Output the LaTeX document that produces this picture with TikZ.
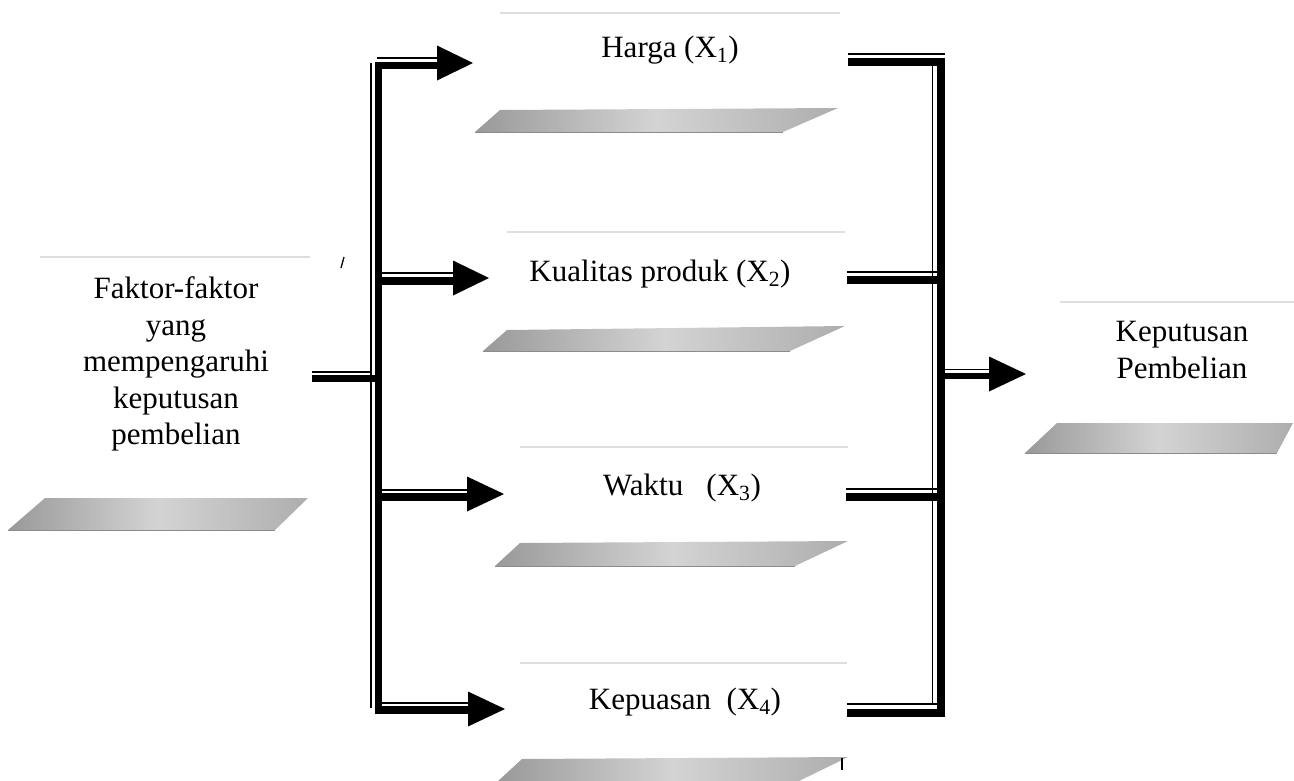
\documentclass[tikz,border=0pt]{standalone}
\usepackage{fontspec}
\setmainfont{Liberation Serif}
\usetikzlibrary{calc}
\pgfdeclarehorizontalshading{slabshade}{100bp}{color(0bp)=(black!40); color(25bp)=(black!40); color(50bp)=(black!17); color(75bp)=(black!32); color(100bp)=(black!32)}
\begin{document}
\begin{tikzpicture}[x=1pt,y=-1pt,
  lbl/.style={font=\fontsize{31}{36.5}\selectfont, inner sep=0pt, align=center},
  thickbar/.style={line width=7.5pt, line join=miter},
  thinbar/.style={line width=1.7pt},
  rim/.style={line width=1.3pt, draw=black!13},
  floor/.style={shading=slabshade},
  floorline/.style={line width=0.8pt, draw=black!45},
  head/.style={fill=black}
]
\useasboundingbox (0,0) rectangle (1294,780);

% ---------- box floors (grey slanted slabs) and faint top rims ----------
\shade[floor] (8,530) -- (275,530) -- (308,498) -- (45,498) -- cycle;
\draw[floorline] (8,530) -- (275,530);
\draw[rim] (40,257) -- (310,257);

\shade[floor] (475,132) -- (783,132) -- (838,108) -- (500,110) -- cycle;
\draw[floorline] (475,132) -- (783,132);
\draw[rim] (500,13) -- (840,13);

\shade[floor] (483,351) -- (790,351) -- (845,326) -- (507,330) -- cycle;
\draw[floorline] (483,351) -- (790,351);
\draw[rim] (507,232) -- (845,232);

\shade[floor] (495,566) -- (795,566) -- (848,541) -- (520,543) -- cycle;
\draw[floorline] (495,566) -- (795,566);
\draw[rim] (520,447) -- (848,447);

\shade[floor] (497,782) -- (797,782) -- (848,757) -- (522,759) -- cycle;
\draw[rim] (520,663) -- (847,663);
\draw[line width=2pt] (842,758) -- (842,770);

\shade[floor] (1025,453) -- (1277,453) -- (1293,423) -- (1057,423) -- cycle;
\draw[floorline] (1025,453) -- (1277,453);
\draw[rim] (1060,302) -- (1294,302);

% ---------- labels ----------
\node[lbl] (src) at (176,364) {Faktor-faktor\\yang\\mempengaruhi\\keputusan\\pembelian};
\node[lbl, anchor=base] (x1) at (670,57) {Harga (X\textsubscript{1})};
\node[lbl, anchor=base] (x2) at (660,281) {Kualitas produk (X\textsubscript{2})};
\node[lbl, anchor=base] (x3) at (682,495) {Waktu\ \ \ (X\textsubscript{3})};
\node[lbl, anchor=base] (x4) at (685,709) {Kepuasan\ \ (X\textsubscript{4})};
\node[lbl] (out) at (1182,350) {Keputusan\\Pembelian};

% ---------- connection points ----------
\coordinate (inL)  at (312,378.5);
\coordinate (busI) at (378.5,378.5);
\coordinate (busT) at (378.5,65.5);
\coordinate (busB) at (378.5,710);
\coordinate (b1) at (437,65.5);
\coordinate (b2) at (453,281);
\coordinate (b3) at (467,497);
\coordinate (b4) at (468,710);
\coordinate (t1) at (473,63);
\coordinate (t2) at (489,278);
\coordinate (t3) at (504,494);
\coordinate (t4) at (505,709);

\coordinate (r1) at (848,62);
\coordinate (r2) at (847,279.5);
\coordinate (r3) at (846,497);
\coordinate (r4) at (847,712.5);
\coordinate (rbT) at (940.5,62);
\coordinate (rbB) at (940.5,712.5);
\coordinate (rbO) at (940.5,376);
\coordinate (ob) at (989,376);
\coordinate (ot) at (1026,374);

% ---------- left bus: thick strokes ----------
\draw[thickbar] (b1) -- (busT) -- (busB) -- (b4);
\draw[thickbar] (inL) -- (busI);
\draw[thickbar] (busT |- b2) -- (b2);
\draw[thickbar] (busT |- b3) -- (b3);
% thin companion strokes
\draw[thinbar] (371,63) -- (371,708);
\draw[thinbar] (377,58) -- (b1 |- 0,58);
\draw[thinbar] (382,273) -- (b2 |- 0,273);
\draw[thinbar] (382,490) -- (b3 |- 0,490);
\draw[thinbar] (382,703) -- (b4 |- 0,703);
\draw[thinbar] (inL |- 0,372) -- (371,372);

% arrow heads
\foreach \b/\t in {b1/t1,b2/t2,b3/t3,b4/t4,ob/ot}{
  \fill[head] ($(\b |- \t)+(0,-17.5)$) -- (\t) -- ($(\b |- \t)+(0,17.5)$) -- cycle;
}

% ---------- right bus ----------
\draw[thickbar, line width=8pt] (r1) -- (rbT) -- (rbB) -- (r4);
\draw[thickbar, line width=8pt] (r2) -- (rbT |- r2);
\draw[thickbar, line width=8pt] (r3) -- (rbT |- r3);
\draw[thinbar] (848,54) -- (945,54);
\draw[thinbar] (932.5,65) -- (932.5,705);
\draw[thinbar] (847,272) -- (940,272);
\draw[thinbar] (846,489) -- (940,489);
\draw[thinbar] (847,704) -- (945,704);

% output connector
\draw[thickbar, line width=6.5pt] (rbO) -- (ob);
\draw[thinbar] (944,369.5) -- (ob |- 0,369.5);

% small pen mark
\draw[line width=1.3pt] (341,268) -- (344,257);
\end{tikzpicture}
\end{document}
